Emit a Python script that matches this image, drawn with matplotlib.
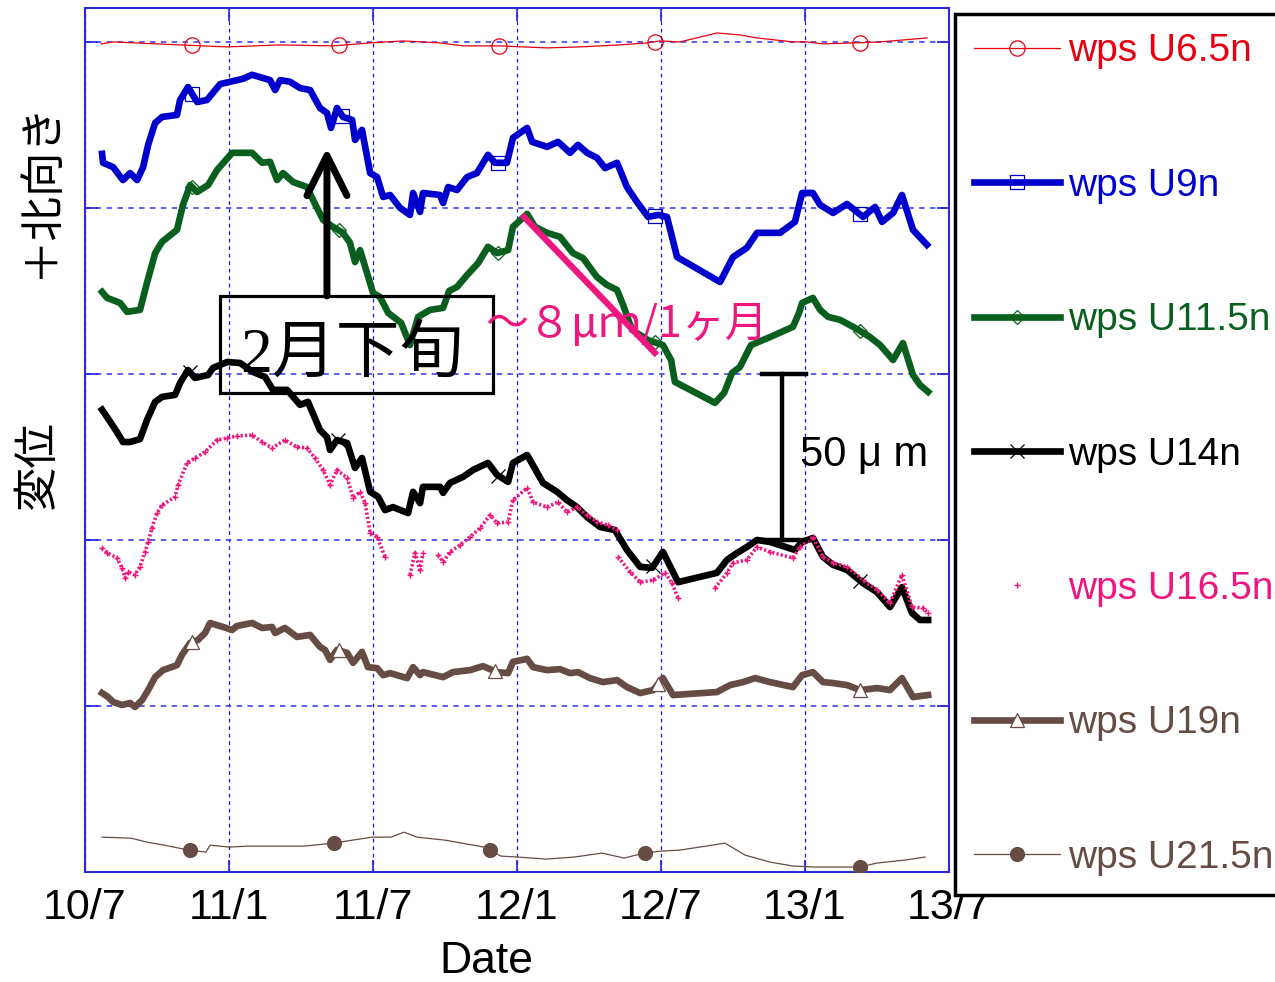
import numpy as np
import matplotlib.pyplot as plt
from matplotlib.lines import Line2D
from matplotlib.patches import Rectangle

plt.rcParams['font.family'] = ['Liberation Sans', 'Noto Sans CJK JP']

# x axis: months counted from 2010/7
tick_pos = [0, 6, 12, 18, 24, 30, 36]
tick_labels = ['10/7', '11/1', '11/7', '12/1', '12/7', '13/1', '13/7']
grid_vals = [50, 100, 150, 200, 250]

# wps U6.5n
u65_t = [0.67, 1.17, 3.96, 5.92, 8.13, 10.33, 11.88, 13.25, 14.79, 15.75, 17.29, 19.25, 20.63,
         22.29, 23.42, 23.96, 24.79, 26.33, 27.29, 28.0, 29.5, 30.08, 30.75, 32.0, 33.13, 35.08]
u65_v = [249.4, 250.0, 249.1, 248.5, 249.1, 248.8, 249.7, 250.3, 249.7, 248.8, 248.8, 248.2, 248.5,
         249.1, 249.7, 250.3, 250.0, 252.7, 252.1, 251.2, 250.0, 250.0, 249.4, 249.7, 250.0, 251.2]
u65_mk = [4.46, 10.58, 17.25, 23.75, 32.29]

# wps U9n
u9_t = [0.71, 0.75, 1.17, 1.58, 1.88, 2.17, 2.42, 2.63, 2.92, 3.21, 3.83, 3.96, 4.29, 4.67, 5.08,
        5.63, 6.04, 6.58, 6.96, 7.71, 7.92, 8.13, 8.54, 8.96, 9.38, 9.79, 10.08, 10.25, 10.5, 10.75,
        11.13, 11.25, 11.54, 11.88, 12.17, 12.42, 12.71, 13.13, 13.54, 13.67, 13.96, 14.08, 14.79,
        14.92, 15.13, 15.5, 15.92, 16.33, 16.79, 17.08, 17.58, 17.83, 18.42, 18.63, 19.25, 19.71,
        20.21, 20.54, 20.92, 21.33, 21.67, 22.17, 22.58, 23.0, 23.46, 23.88, 24.25, 24.67, 26.46,
        27.0, 27.58, 28.0, 28.96, 29.58, 29.88, 30.33, 30.63, 31.17, 31.75, 32.42, 32.92, 33.21,
        33.67, 34.04, 34.5, 35.08]
u9_v = [216.3, 213.6, 212.3, 208.4, 210.5, 208.4, 212.3, 219.0, 225.6, 227.4, 228.0, 232.5, 236.4,
        231.9, 232.5, 237.3, 238.0, 238.9, 240.1, 238.5, 235.5, 238.5, 238.0, 236.1, 235.5, 230.1,
        228.6, 224.1, 230.1, 227.4, 226.5, 220.5, 223.5, 210.5, 209.3, 203.3, 203.9, 200.0, 197.9,
        204.5, 198.8, 204.5, 203.9, 201.5, 206.3, 205.4, 209.3, 210.5, 216.0, 213.6, 213.6, 221.1,
        224.1, 219.9, 218.4, 219.9, 216.6, 219.0, 216.6, 215.1, 212.0, 213.6, 206.3, 201.8, 197.3,
        197.9, 197.3, 185.2, 177.7, 185.2, 188.0, 192.5, 192.5, 195.8, 204.5, 204.5, 200.9, 198.5,
        201.2, 197.3, 200.3, 195.8, 198.5, 203.9, 193.4, 188.9]
u9_mk = [4.46, 10.71, 17.21, 23.75, 32.29]

# wps U11.5n
u115_t = [0.71, 0.92, 1.46, 1.75, 2.29, 2.58, 2.92, 3.21, 3.83, 4.08, 4.38, 4.67, 5.13, 5.5, 6.13,
          6.96, 7.38, 7.71, 8.0, 8.25, 8.67, 9.25, 9.5, 9.92, 10.33, 10.75, 11.04, 11.25, 11.46,
          11.75, 12.0, 12.29, 12.63, 13.17, 13.54, 13.88, 14.38, 14.92, 15.17, 15.5, 15.92, 16.38,
          16.79, 17.17, 17.63, 17.83, 18.42, 18.75, 19.25, 19.79, 20.33, 20.75, 21.33, 21.75, 22.17,
          22.42, 22.79, 23.46, 24.08, 24.42, 24.58, 26.25, 26.63, 26.96, 27.29, 27.75, 28.54, 29.5,
          29.75, 29.88, 30.33, 30.63, 30.96, 31.46, 32.08, 32.71, 33.13, 33.67, 34.08, 34.5, 34.79,
          35.13]
u115_v = [174.7, 172.9, 171.4, 168.7, 169.3, 177.4, 186.4, 189.8, 193.4, 200.9, 206.9, 204.8, 206.9,
          211.4, 216.6, 216.6, 213.6, 213.9, 208.4, 210.5, 207.8, 206.3, 202.4, 196.4, 194.3, 192.5,
          189.5, 183.7, 187.3, 180.4, 174.4, 173.2, 168.4, 165.4, 158.7, 167.2, 169.3, 169.9, 175.0,
          176.2, 179.8, 183.4, 188.3, 186.4, 187.3, 194.3, 198.2, 194.3, 192.5, 191.3, 186.4, 184.9,
          179.2, 176.8, 175.3, 170.8, 163.3, 160.2, 158.7, 154.2, 147.6, 141.3, 144.3, 150.3, 152.1,
          158.7, 161.1, 164.2, 168.4, 171.4, 172.9, 169.3, 167.2, 166.3, 163.9, 161.1, 158.7, 154.2,
          159.3, 149.7, 146.7, 144.6]
u115_mk = [4.46, 10.58, 17.21, 23.75, 32.29]

# wps U14n
u14_t = [0.71, 0.92, 1.33, 1.58, 1.88, 2.29, 2.58, 2.92, 3.21, 3.75, 3.96, 4.29, 4.58, 5.13, 5.33,
         5.92, 6.46, 7.0, 7.5, 7.83, 8.42, 8.96, 9.29, 9.79, 10.08, 10.21, 10.5, 10.92, 11.25, 11.54,
         11.88, 12.21, 12.5, 12.83, 13.46, 13.67, 13.96, 14.08, 14.79, 14.92, 15.21, 15.75, 16.17,
         16.79, 17.17, 17.63, 17.83, 18.42, 18.54, 19.08, 19.67, 20.08, 20.5, 20.92, 21.46, 22.08,
         22.58, 23.13, 23.63, 24.08, 24.71, 26.33, 26.75, 27.17, 27.58, 28.0, 28.54, 29.58, 29.88,
         30.33, 30.75, 31.17, 31.75, 32.42, 33.0, 33.54, 34.04, 34.46, 34.79, 35.13]
u14_v = [139.2, 137.0, 132.5, 129.5, 129.5, 130.4, 136.1, 141.6, 143.1, 143.7, 147.3, 151.2, 148.8,
         149.7, 151.8, 153.6, 153.3, 150.6, 149.1, 145.2, 145.2, 140.7, 141.6, 133.1, 131.0, 127.1,
         130.1, 129.2, 121.7, 124.7, 114.5, 113.0, 109.0, 109.9, 108.1, 114.5, 111.1, 116.0, 116.0,
         114.2, 117.2, 119.0, 121.1, 123.2, 119.6, 117.5, 123.2, 125.6, 124.1, 117.2, 114.5, 112.0,
         109.9, 106.9, 103.9, 103.0, 97.0, 91.9, 91.6, 96.4, 87.3, 90.1, 94.0, 96.1, 97.9, 100.0,
         99.4, 97.0, 99.4, 100.6, 94.9, 92.5, 91.0, 87.0, 84.3, 79.8, 85.8, 78.0, 75.9, 75.9]
u14_mk = [4.38, 10.54, 17.21, 23.67, 32.29]

# wps U16.5n (nan = no data)
nan = np.nan
u165_t = [0.71, 0.92, 1.33, 1.54, 1.67, 1.79, 2.08, 2.29, 2.5, 2.63, 2.79, 3.0, 3.21, 3.75, 3.88,
          4.25, 4.58, 5.0, 5.5, 5.92, 6.33, 6.96, 7.38, 7.79, 8.33, 8.83, 9.25, 9.58, 9.92, 10.21,
          10.5, 10.92, 11.17, 11.46, 11.67, 11.88, 12.17, 12.5, 13.0, 13.54, 13.75, 13.96, 14.08,
          14.4, 14.71, 14.92, 15.21, 15.63, 16.04, 16.46, 16.88, 17.17, 17.63, 17.83, 18.42, 18.67,
          19.25, 19.71, 20.08, 20.5, 20.92, 21.33, 21.79, 22.17, 22.19, 22.21, 22.71, 23.13, 23.67,
          24.17, 24.46, 24.71, 25.5, 26.25, 26.75, 27.0, 27.58, 28.0, 28.54, 29.5, 29.79, 30.33,
          30.75, 31.17, 31.75, 32.42, 33.0, 33.54, 34.04, 34.46, 34.92, 35.13]
u165_v = [97.6, 96.1, 94.6, 91.6, 88.6, 90.4, 89.5, 91.9, 96.4, 99.4, 103.6, 108.1, 110.5, 113.0,
          116.6, 123.2, 124.7, 126.5, 130.1, 130.7, 131.3, 131.6, 129.5, 127.7, 130.1, 128.0, 127.7,
          124.7, 121.1, 116.6, 121.1, 118.7, 112.7, 114.5, 111.1, 102.1, 100.9, 94.9, nan, 89.5,
          96.1, 91.0, 96.1, nan, 95.5, 93.4, 96.4, 98.5, 100.9, 103.6, 107.5, 105.1, 105.4, 112.0,
          115.7, 111.4, 109.9, 111.4, 108.4, 109.9, 107.5, 105.4, 104.5, 103.0, nan, 94.9, 90.4,
          87.3, 87.9, 90.1, 87.0, 82.5, nan, 85.5, 90.1, 93.1, 94.0, 97.9, 96.4, 94.6, 97.9, 100.9,
          94.9, 93.1, 91.9, 87.9, 84.9, 81.0, 89.5, 79.8, 79.5, 78.0]

# wps U19n
u19_t = [0.71, 0.96, 1.17, 1.54, 1.88, 2.08, 2.38, 2.63, 2.92, 3.25, 3.83, 4.04, 4.38, 4.71, 5.0,
         5.21, 5.75, 6.13, 6.33, 6.96, 7.38, 7.79, 7.92, 8.33, 8.83, 9.38, 9.79, 10.0, 10.21, 10.5,
         10.92, 11.17, 11.54, 11.79, 12.17, 12.42, 12.71, 13.42, 13.67, 13.96, 14.08, 14.92, 15.33,
         16.04, 16.58, 17.17, 17.63, 17.83, 18.42, 18.67, 19.25, 19.79, 20.21, 20.54, 21.04, 21.58,
         22.17, 22.58, 23.13, 23.67, 24.08, 24.5, 26.33, 26.88, 27.42, 27.92, 28.54, 29.5, 29.88,
         30.33, 30.75, 31.17, 31.75, 32.29, 33.0, 33.54, 34.04, 34.5, 35.13]
u19_v = [53.9, 52.7, 51.2, 50.3, 50.9, 49.7, 51.8, 54.8, 58.7, 60.8, 62.3, 65.4, 69.0, 69.9, 72.0,
         75.0, 73.8, 72.9, 74.1, 75.0, 73.5, 73.8, 72.0, 73.5, 70.8, 71.4, 67.8, 66.9, 63.9, 66.9,
         66.0, 63.0, 66.3, 61.7, 61.4, 59.3, 59.9, 58.4, 61.7, 59.3, 60.2, 58.7, 60.2, 60.8, 62.0,
         60.2, 59.9, 63.3, 64.2, 61.7, 60.8, 61.1, 59.9, 60.2, 58.4, 57.2, 57.8, 55.7, 53.9, 54.8,
         58.4, 53.3, 54.2, 56.3, 57.2, 58.4, 57.2, 55.7, 59.3, 60.2, 57.2, 56.9, 56.3, 54.8, 55.4,
         54.8, 58.4, 52.7, 53.3]
u19_mk = [4.46, 10.58, 17.08, 23.88, 32.29]

# wps U21.5n
u215_t = [0.71, 1.92, 2.58, 3.29, 4.33, 5.04, 5.21, 6.0, 6.79, 9.13, 10.33, 11.96, 12.75, 13.29,
          13.83, 15.0, 16.63, 17.33, 18.04, 19.21, 20.38, 21.54, 22.46, 23.29, 24.0, 24.79, 26.67,
          27.5, 28.54, 29.5, 30.42, 32.29, 33.0, 34.17, 35.0]
u215_v = [10.5, 10.2, 9.0, 8.1, 6.6, 6.0, 8.1, 7.5, 7.8, 7.8, 8.7, 10.5, 10.5, 12.0, 10.5, 9.6,
          7.5, 4.8, 4.5, 3.9, 4.5, 5.7, 4.2, 5.7, 6.3, 6.6, 8.7, 5.1, 3.0, 1.8, 1.5, 1.5, 2.7, 3.6,
          4.5]
u215_mk = [4.38, 10.38, 16.88, 23.33, 32.29]

# ~8 um/month trend on U11.5n
trend_t = [18.21, 23.83]
trend_v = [197.9, 155.7]

RED = '#e60012'
BLUE = '#0000cd'
GREEN = '#0a5f1f'
PINK = '#f0167f'
BROWN = '#654c44'

fig = plt.figure(figsize=(12.75, 9.82), dpi=100)
ax = fig.add_axes([0.0667, 0.112, 0.6776, 0.8798])

# (t, v, marker positions, label, color, lw, marker, ms, mfc)
series = [
    (u65_t, u65_v, u65_mk, 'wps U6.5n', RED, 0.9, 'o', 11, 'none'),
    (u9_t, u9_v, u9_mk, 'wps U9n', BLUE, 4.8, 's', 10, 'none'),
    (u115_t, u115_v, u115_mk, 'wps U11.5n', GREEN, 4.8, 'D', 7, 'none'),
    (u14_t, u14_v, u14_mk, 'wps U14n', 'black', 4.8, 'x', 10, 'none'),
    (u19_t, u19_v, u19_mk, 'wps U19n', BROWN, 4.8, '^', 10, 'white'),
    (u215_t, u215_v, u215_mk, 'wps U21.5n', BROWN, 0.9, 'o', 10, BROWN),
]

handles = {}
for t, v, mk, label, c, lw, m, ms, mfc in series:
    ax.plot(t, v, color=c, lw=lw, zorder=3)
    ax.plot(mk, np.interp(mk, t, v), ls='none', marker=m, ms=ms, mfc=mfc, mec=c,
            mew=0.9, zorder=3.5)
    handles[label] = Line2D([], [], color=c, lw=lw, marker=m, ms=ms, mfc=mfc, mec=c, mew=0.9)

# U16.5n is a dense run of '+' points
ax.plot(u165_t, u165_v, color=PINK, lw=2.6, ls=(0, (0.6, 0.6)), zorder=3.2)
ax.plot(u165_t, u165_v, ls='none', marker='+', ms=5, mew=1, color=PINK, zorder=3.2)
handles['wps U16.5n'] = Line2D([], [], ls='none', marker='+', ms=4, mew=1, color=PINK)

ax.set_xlim(0, 36)
ax.set_ylim(0, 260.2)
ax.set_xticks(tick_pos, tick_labels)
ax.set_yticks(grid_vals)
ax.set_yticklabels([])
ax.grid(axis='x', color='#1414e0', ls=(0, (3, 3)), lw=0.9)
ax.grid(axis='y', color='#5050f0', ls=(0, (3, 3)), lw=1.3)
ax.tick_params(direction='in', length=9, width=1.2, color='#2020d8', top=True, right=True,
               labelsize=31, pad=11.5)
for sp in ax.spines.values():
    sp.set_color('#2a2ad8')
    sp.set_linewidth(1.5)
ax.set_xlabel('Date', fontsize=32)
ax.xaxis.set_label_coords(0.465, -0.08)

# annotations
ax.add_patch(Rectangle((5.63, 144.3), 11.37, 29.2, fill=False, ec='black', lw=2.3, zorder=6))
ax.text(6.46, 155.4, '2月下旬', fontsize=46, va='center', ha='left',
        family=['Liberation Serif', 'Noto Sans CJK JP'], zorder=6)
ax.annotate('', xy=(10.08, 218.1), xytext=(10.08, 173.5),
            arrowprops=dict(arrowstyle='->,head_length=1.44,head_width=0.72', mutation_scale=20,
                            lw=5, color='black', shrinkA=0, shrinkB=0, capstyle='round'),
            zorder=6)
ax.plot(trend_t, trend_v, color=PINK, lw=4.5, solid_capstyle='butt', zorder=5)
ax.text(16.67, 164.8, '～８μｍ/1ヶ月', color=PINK, fontsize=31, va='center', ha='left',
        family=['Noto Sans CJK JP'], zorder=6)

ax.plot([29.04, 29.04], [100, 150], color='black', lw=3.2, zorder=6)
ax.plot([28.21, 30.04], [150, 150], color='black', lw=3.2, zorder=6)
ax.plot([28.21, 30.04], [100, 100], color='black', lw=3.2, zorder=6)
ax.text(29.79, 125.6, '50 μ m', fontsize=30, va='center', ha='left', zorder=6)

fig.text(37 / 1275, 1 - 465 / 982, '変位', rotation=90, ha='center', va='center', fontsize=32,
         family=['Noto Sans CJK JP'])
fig.text(40 / 1275, 1 - 189 / 982, '＋北向き', rotation=90, ha='center', va='center', fontsize=32,
         family=['Noto Sans CJK JP'])

labels = ['wps U6.5n', 'wps U9n', 'wps U11.5n', 'wps U14n', 'wps U16.5n', 'wps U19n', 'wps U21.5n']
text_colors = [RED, BLUE, GREEN, 'black', PINK, BROWN, BROWN]
leg = fig.legend([handles[k] for k in labels], labels, loc='upper left',
                 bbox_to_anchor=(955 / 1275, 1 - 14 / 982), fontsize=28, frameon=True,
                 fancybox=False, edgecolor='black', framealpha=1, borderpad=0.5,
                 labelspacing=2.53, handlelength=2.2, handletextpad=0.2, borderaxespad=0)
leg.get_frame().set_linewidth(2.5)
for txt, c in zip(leg.get_texts(), text_colors):
    txt.set_color(c)

fig.savefig('out.png', dpi=100)
